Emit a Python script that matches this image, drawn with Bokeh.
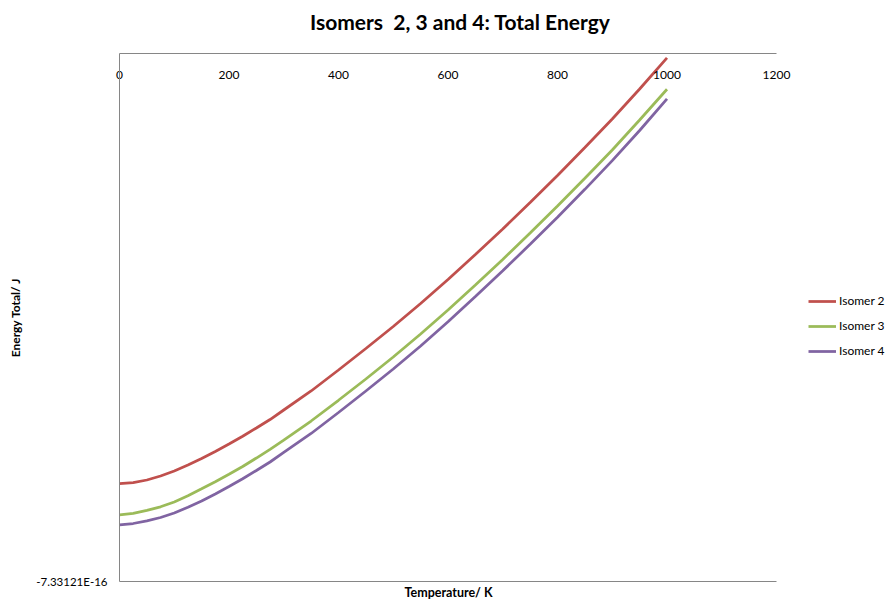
from bokeh.plotting import figure
from bokeh.layouts import column
from bokeh.models import Range1d, LinearAxis, FixedTicker, CustomJSTickFormatter, Legend, LegendItem, Title, Div
from bokeh.embed import file_html
from bokeh.resources import INLINE

# Temperature (K)
temperature = [0, 25, 50, 75, 100, 125, 150, 175, 200, 225, 250, 275, 300, 350, 400, 450, 500,
               550, 600, 650, 700, 750, 800, 850, 900, 950, 1000]
# Total energy in units of 1e-16 J
isomer2 = [-5.971, -5.957, -5.922, -5.866, -5.797, -5.714, -5.623, -5.526, -5.422, -5.314, -5.200,
           -5.082, -4.950, -4.686, -4.395, -4.096, -3.791,
           -3.471, -3.138, -2.791, -2.437, -2.069, -1.694, -1.305, -0.909, -0.493, -0.060]
isomer3 = [-6.405, -6.384, -6.343, -6.294, -6.227, -6.141, -6.044, -5.946, -5.843, -5.735, -5.617,
           -5.496, -5.367, -5.103, -4.815, -4.520, -4.214,
           -3.895, -3.562, -3.214, -2.860, -2.492, -2.117, -1.733, -1.340, -0.923, -0.496]
isomer4 = [-6.544, -6.526, -6.489, -6.443, -6.380, -6.300, -6.214, -6.116, -6.012, -5.904, -5.790,
           -5.672, -5.540, -5.276, -4.985, -4.686, -4.381,
           -4.061, -3.725, -3.374, -3.017, -2.649, -2.274, -1.886, -1.488, -1.069, -0.629]
series_names = ["Isomer 2", "Isomer 3", "Isomer 4"]
colors = ["#C0504D", "#9BBB59", "#8064A2"]
x_ticks = [0, 200, 400, 600, 800, 1000, 1200]
x_min, x_max = 0, 1200
y_min = -7.33121e-16
y_max = 0.0
UNIT = 1e-16
title_text = "Isomers  2, 3 and 4: Total Energy"

FONT = "Lato"
GRAY = "#868686"

# layout (pixels)
W, H = 892, 609
TITLE_H = 40
AX_LEFT, AX_RIGHT, AX_TOP, AX_BOTTOM = 119, 776, 53, 581
frame_right = W
x_view_max = x_min + (x_max - x_min) * (frame_right - AX_LEFT) / (AX_RIGHT - AX_LEFT)

title_div = Div(text=title_text, width=W, height=TITLE_H, margin=0,
                styles={"font-family": FONT, "font-weight": "bold", "font-size": "21px",
                        "line-height": "24px", "padding-top": "10px", "padding-left": "310px",
                        "white-space": "pre", "color": "black", "box-sizing": "border-box"})

p = figure(width=W, height=H - TITLE_H, output_backend="svg", toolbar_location=None,
           title=None, margin=0,
           x_range=Range1d(x_min, x_view_max), y_range=Range1d(y_min, y_max),
           x_axis_location="above",
           min_border_left=AX_LEFT, min_border_right=W - frame_right,
           min_border_top=AX_TOP - TITLE_H, min_border_bottom=H - AX_BOTTOM)
p.outline_line_color = None
p.grid.visible = False
p.background_fill_color = "white"
p.border_fill_color = "white"

# top x axis
xa = p.xaxis[0]
xa.bounds = (x_min, x_max)
xa.ticker = FixedTicker(ticks=x_ticks)
xa.axis_line_color = GRAY
xa.major_tick_line_color = None
xa.minor_tick_line_color = None
xa.major_label_text_font = FONT
xa.major_label_text_font_size = "12px"
xa.major_label_text_color = "black"
xa.major_label_standoff = -31

# bottom axis (line only)
xb = LinearAxis(ticker=FixedTicker(ticks=[]), bounds=(x_min, x_max))
xb.axis_line_color = GRAY
xb.major_tick_line_color = None
xb.minor_tick_line_color = None
xb.major_label_standoff = 0
p.add_layout(xb, "below")

xlabel = Title(text="Temperature/ K", align="left", offset=285,
               text_font=FONT, text_font_size="12.5px", text_font_style="bold",
               text_color="black", standoff=2)
p.add_layout(xlabel, "below")

# left y axis
ya = p.yaxis[0]
ya.ticker = FixedTicker(ticks=[y_min])
ya.formatter = CustomJSTickFormatter(code="return tick.toExponential(5).replace('e', 'E');")
ya.axis_line_color = GRAY
ya.major_tick_line_color = None
ya.minor_tick_line_color = None
ya.major_label_text_font = FONT
ya.major_label_text_font_size = "11.5px"
ya.major_label_text_color = "black"
ya.major_label_standoff = 6
ya.axis_label = "Energy Total/ J"
ya.axis_label_text_font = FONT
ya.axis_label_text_font_size = "12px"
ya.axis_label_text_font_style = "bold"
ya.axis_label_text_color = "black"
ya.axis_label_standoff = 10

items = []
for name, vals, c in zip(series_names, [isomer2, isomer3, isomer4], colors):
    r = p.line(temperature, [v * UNIT for v in vals], line_color=c, line_width=2.75)
    items.append(LegendItem(label=name, renderers=[r]))

legend = Legend(items=items, location=(808 - AX_LEFT, AX_BOTTOM - 358))
legend.border_line_color = None
legend.background_fill_alpha = 0
legend.padding = 0
legend.margin = 0
legend.spacing = 10
legend.glyph_width = 28
legend.glyph_height = 14
legend.label_height = 14
legend.label_standoff = 3
legend.label_text_font = FONT
legend.label_text_font_size = "12px"
legend.label_text_color = "black"
p.add_layout(legend)

layout = column(title_div, p, spacing=0, margin=0)
open("out.html", "w").write(file_html(layout, INLINE))
